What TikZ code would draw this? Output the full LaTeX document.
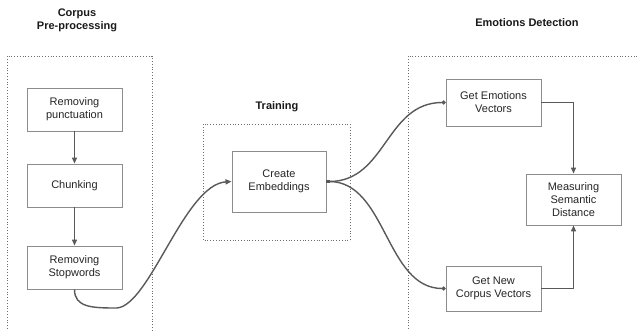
\documentclass[tikz,border=0pt]{standalone}
\usepackage{fontspec}
\setmainfont{Liberation Sans}
\usetikzlibrary{arrows.meta}
\definecolor{linec}{HTML}{595959}
\definecolor{boxc}{HTML}{8C8C8C}
\definecolor{dotc}{HTML}{707070}
\begin{document}
\begin{tikzpicture}[x=1pt,y=-1pt,
  procbox/.style={draw=boxc,line width=0.9pt,fill=white,minimum width=95pt,inner sep=0pt,align=center,font=\fontsize{11}{13}\selectfont,text=black!85},
  group/.style={draw=dotc,dotted,line width=0.8pt},
  title/.style={font=\fontsize{11}{13}\selectfont\bfseries,align=center,text=black!90},
  conn/.style={draw=linec,line width=1.4pt},
  tip/.style={-{Triangle[length=6pt,width=5pt]}}
]
\useasboundingbox (0,0) rectangle (639,330);
% group frames
\draw[group] (7,340) -- (7,56) -- (152,56) -- (152,340);
\draw[group] (203,124) rectangle (350,240);
\draw[group] (408,340) -- (408,56) -- (650,56);
% titles
\node[title] (t1) at (77,20.5) {Corpus\\Pre-processing};
\node[title] (t2) at (277,107) {Training};
\node[title] (t3) at (527,23) {Emotions Detection};
% boxes
\node[procbox,minimum height=43pt] (punct) at (74.5,109.5) {Removing\\punctuation};
\node[procbox,minimum height=43pt] (chunk) at (74.5,185.5) {Chunking};
\node[procbox,minimum height=43pt] (stop) at (74.5,267.5) {Removing\\Stopwords};
\node[procbox,minimum height=61pt,minimum width=94pt] (emb) at (279,181.5) {Create\\Embeddings};
\node[procbox,minimum height=47pt] (emo) at (493.5,102.5) {Get Emotions\\Vectors};
\node[procbox,minimum height=45pt] (corp) at (493.5,288.5) {Get New\\Corpus Vectors};
\node[procbox,minimum height=51pt] (meas) at (573.5,199.5) {Measuring\\Semantic\\Distance};
% connectors
\draw[conn,tip] (punct) -- (chunk);
\draw[conn,tip] (chunk) -- (stop);
\coordinate (dip) at (117,308);
\draw[conn,tip] (stop.south) .. controls +(0,18) and +(-25,0) .. (dip)
  .. controls +(33,-3) and +(-47,3) .. (emb.west);
\draw[conn,{Square[length=3.5pt,width=3.5pt]}-{Circle[length=4pt]}] (emb.east) .. controls +(60,0) and +(-60,0) .. (emo.west);
\draw[conn,{Square[length=3.5pt,width=3.5pt]}-{Circle[length=4pt]}] (emb.east) .. controls +(60,0) and +(-60,0) .. (corp.west);
\draw[conn,tip] (emo.east) -| (meas.north);
\draw[conn,tip] (corp.east) -| (meas.south);
\end{tikzpicture}
\end{document}
